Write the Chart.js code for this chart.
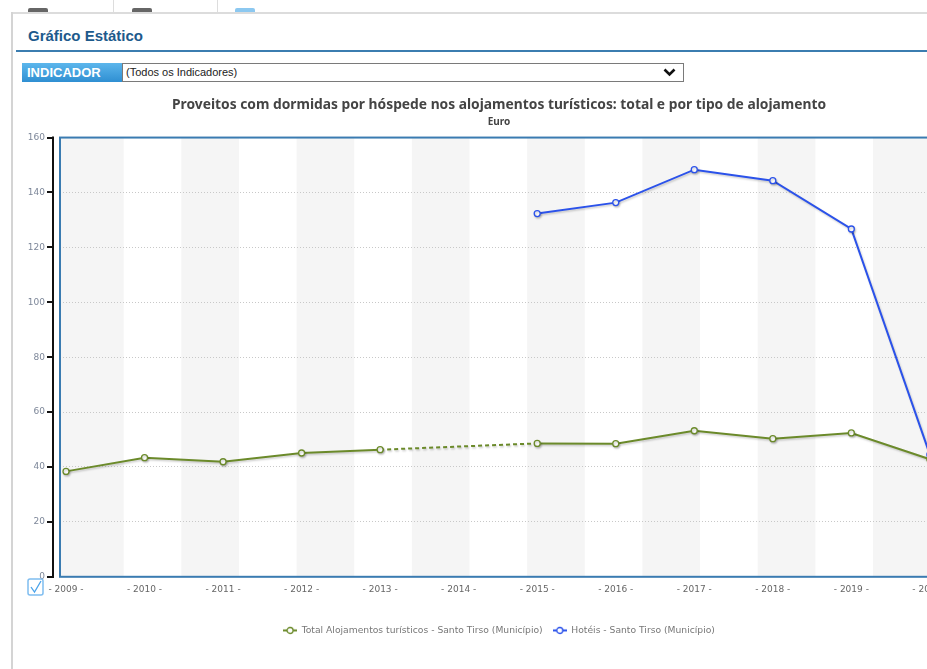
<!DOCTYPE html>
<html lang="pt">
<head>
<meta charset="utf-8">
<title>Gráfico Estático</title>
<script src="https://cdn.jsdelivr.net/npm/chart.js@4.4.1/dist/chart.umd.min.js"></script>
<style>
html, body { margin: 0; padding: 0; background: #fff; overflow: hidden; width: 927px; height: 669px; }
body { position: relative; font-family: "Liberation Sans", Arial, sans-serif; }
.mark { position: absolute; top: 8px; height: 4px; width: 20px; background: #666; border-radius: 2px 2px 0 0; }
.sep { position: absolute; top: 0; height: 12px; width: 1px; background: #ddd; }
#frameTop { position: absolute; left: 12px; top: 12px; width: 915px; height: 2px; background: #dcdcdc; }
#frameLeft { position: absolute; left: 11px; top: 12px; width: 2px; height: 657px; background: #d4d4d4; }
#heading { position: absolute; left: 28px; top: 27px; font-size: 15px; font-weight: bold; color: #1d5a8c; }
#rule { position: absolute; left: 16px; top: 50px; width: 911px; height: 2px; background: #3b7db0; }
#indLabel { position: absolute; left: 22px; top: 63px; width: 100px; height: 19px; background: linear-gradient(#5cb6ec, #2f8fd2);
  color: #fff; font-family: "Liberation Sans Narrow", "Liberation Sans", Arial, sans-serif; font-weight: bold; font-size: 13px; line-height: 19px; padding-left: 5px; box-sizing: border-box; }
#select { position: absolute; left: 122px; top: 63px; width: 562px; height: 19px; border: 1px solid #7a7a7a; box-sizing: border-box; background: #fff;
  font-family: "Liberation Sans Narrow", "Liberation Sans", Arial, sans-serif; font-size: 11px; line-height: 17px; padding-left: 3px; color: #222; }
#select svg { position: absolute; right: 7px; top: 4px; }
#wrap { position: absolute; left: 0; top: 88px; width: 998px; height: 581px; }
#check { position: absolute; left: 27px; top: 578px; }
</style>
</head>
<body>
<div class="mark" style="left:28px"></div>
<div class="sep" style="left:113px"></div>
<div class="mark" style="left:132px"></div>
<div class="sep" style="left:217px"></div>
<div class="mark" style="left:235px;background:#8cc8f0"></div>
<div id="frameTop"></div>
<div id="frameLeft"></div>
<div id="heading">Gráfico Estático</div>
<div id="rule"></div>
<div id="indLabel">INDICADOR</div>
<div id="select">(Todos os Indicadores)
  <svg width="13" height="9" viewBox="0 0 13 9"><polyline points="1.5,1.5 6.5,6.5 11.5,1.5" fill="none" stroke="#111" stroke-width="2.6"/></svg>
</div>
<div id="wrap"><canvas id="chartId" width="998" height="581"></canvas></div>
<svg id="check" width="17" height="18" viewBox="0 0 17 18">
  <rect x="1" y="1" width="15" height="16" rx="2" fill="#fff" stroke="#7fbdf0" stroke-width="1.5"/>
  <polyline points="4,9 7.5,14 14,3" fill="none" stroke="#4aa3ea" stroke-width="1.3"/>
</svg>

<script>
// dados
var years = [2009, 2010, 2011, 2012, 2013, 2014, 2015, 2016, 2017, 2018, 2019, 2020];
var totalValues = [38.4, 43.4, 41.9, 45.1, 46.3, null, 48.6, 48.5, 53.2, 50.3, 52.4, 42.8];
var hoteisValues = [null, null, null, null, null, null, 132.3, 136.3, 148.3, 144.3, 126.7, 44.5];
var yTicks = [0, 20, 40, 60, 80, 100, 120, 140, 160];
var seriesNames = ['Total Alojamentos turísticos - Santo Tirso (Município)', 'Hotéis - Santo Tirso (Município)'];
var seriesColours = ['#6b8a2a', '#2b52ea'];

var chrt;
var chartId;

function toPoints(values) {
	return years.map((yr, i) => ({ x: yr, y: values[i] }));
}

// little line + circle symbol for the legend
function legendIcon(colour) {
	var c = document.createElement('canvas');
	c.width = 14; c.height = 9;
	var g = c.getContext('2d');
	g.strokeStyle = colour;
	g.lineWidth = 2;
	g.beginPath(); g.moveTo(0, 4.5); g.lineTo(14, 4.5); g.stroke();
	g.fillStyle = '#fff';
	g.lineWidth = 1.3;
	g.beginPath(); g.arc(7, 4.5, 3, 0, Math.PI * 2); g.fill(); g.stroke();
	return c;
}
var legendIcons = seriesColours.map(legendIcon);

// segment that jumps over a missing year gets dashed
function gapDash(values) {
	return ctx => (values[ctx.p0DataIndex] === null || values[ctx.p1DataIndex] === null ? [4, 3] : undefined);
}

// alternating bands, plot border and the black y axis line
var plotDecor = {
	id: 'plotDecor',
	beforeDraw(chart) {
		var ctx = chart.ctx, a = chart.chartArea, x = chart.scales.x;
		var step = x.getPixelForValue(years[1]) - x.getPixelForValue(years[0]);
		var w = step * 0.734;
		var start = x.getPixelForValue(years[0]) + w;
		ctx.save();
		ctx.fillStyle = '#f5f5f5';
		ctx.fillRect(a.left, a.top, start - a.left, a.height);
		for (var k = 1; start + k * w < a.right; k += 2) {
			var x0 = start + k * w;
			ctx.fillRect(x0, a.top, Math.min(w, a.right - x0), a.height);
		}
		ctx.restore();
	},
	beforeDatasetsDraw(chart) {
		var ctx = chart.ctx, a = chart.chartArea;
		ctx.save();
		ctx.strokeStyle = '#3a7bb1';
		ctx.lineWidth = 2;
		ctx.strokeRect(a.left, a.top, a.width + 10, a.height);
		ctx.restore();
	},
	afterDraw(chart) {
		var ctx = chart.ctx, a = chart.chartArea, y = chart.scales.y;
		ctx.save();
		ctx.strokeStyle = '#111';
		ctx.lineWidth = 2;
		ctx.beginPath();
		ctx.moveTo(a.left - 7, a.top - 1);
		ctx.lineTo(a.left - 7, a.bottom + 1);
		yTicks.forEach(v => {
			var py = Math.round(y.getPixelForValue(v));
			ctx.moveTo(a.left - 13, py);
			ctx.lineTo(a.left - 6, py);
		});
		ctx.stroke();
		ctx.restore();
	},
	beforeDatasetDraw(chart) {
		var ctx = chart.ctx;
		ctx.save();
		ctx.shadowColor = 'rgba(0,0,0,0.2)';
		ctx.shadowOffsetX = 1;
		ctx.shadowOffsetY = 1.5;
		ctx.shadowBlur = 2;
	},
	afterDatasetDraw(chart) {
		chart.ctx.restore();
	}
};

chrt = document.getElementById('chartId').getContext('2d');
chartId = new Chart(chrt, {
	type: 'line',
	data: {
		datasets: [{
			label: seriesNames[0],
			data: toPoints(totalValues),
			borderColor: seriesColours[0],
			pointBorderColor: seriesColours[0],
			pointBackgroundColor: '#fff',
			borderWidth: 2,
			pointRadius: 3,
			pointBorderWidth: 1.3,
			spanGaps: true,
			segment: { borderDash: gapDash(totalValues) }
		}, {
			label: seriesNames[1],
			data: toPoints(hoteisValues),
			borderColor: seriesColours[1],
			pointBorderColor: seriesColours[1],
			pointBackgroundColor: '#fff',
			borderWidth: 2,
			pointRadius: 3,
			pointBorderWidth: 1.3
		}]
	},
	options: {
		responsive: false,
		animation: false,
		events: [],
		layout: { padding: { left: 0, right: 0, top: 0, bottom: 24 } },
		plugins: {
			title: {
				display: true,
				text: 'Proveitos com dormidas por hóspede nos alojamentos turísticos: total e por tipo de alojamento',
				color: '#444',
				font: { family: 'Noto Sans', size: 13.8, weight: 'bold' },
				padding: { top: 9, bottom: 3 }
			},
			subtitle: {
				display: true,
				text: 'Euro',
				color: '#444',
				font: { family: 'Noto Sans', size: 10, weight: 'bold' },
				padding: { top: 0, bottom: 9 }
			},
			legend: {
				position: 'bottom',
				labels: {
					usePointStyle: true,
					pointStyleWidth: 14,
					color: '#777',
					font: { family: 'DejaVu Sans', size: 9.2 },
					padding: 10,
					generateLabels(chart) {
						return Chart.defaults.plugins.legend.labels.generateLabels(chart).map((l, i) => {
							l.pointStyle = legendIcons[i];
							return l;
						});
					}
				}
			},
			tooltip: { enabled: false }
		},
		scales: {
			x: {
				type: 'linear',
				min: 2008.9235,
				max: 2020.80,
				grid: { display: false, drawTicks: false },
				border: { display: false },
				afterBuildTicks(scale) { scale.ticks = years.map(v => ({ value: v })); },
				afterFit(scale) { scale.height = 39; },
				ticks: {
					autoSkip: false,
					maxRotation: 0,
					padding: 7,
					color: '#666',
					font: { family: 'DejaVu Sans', size: 9 },
					callback: v => '- ' + v + ' -'
				}
			},
			y: {
				min: 0,
				max: 160,
				afterBuildTicks(scale) { scale.ticks = yTicks.map(v => ({ value: v })); },
				afterFit(scale) { scale.width = 60; },
				grid: { color: '#c8c8c8', drawTicks: false },
				border: { display: false, dash: [1, 2] },
				ticks: {
					padding: 15,
					color: '#7d8799',
					font: { family: 'DejaVu Sans', size: 9 }
				}
			}
		}
	},
	plugins: [plotDecor]
});
</script>
</body>
</html>
